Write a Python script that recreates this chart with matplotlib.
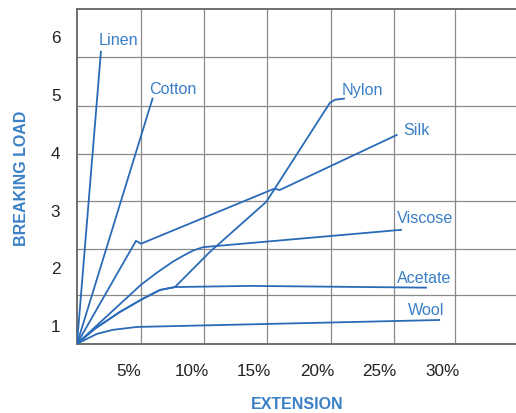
import numpy as np
import matplotlib
matplotlib.use('Agg')
import matplotlib.pyplot as plt

plt.rcParams['font.family'] = ['Liberation Sans', 'DejaVu Sans']

# extension (%) / breaking load
linen_x = [0.85, 2.76]
linen_y = [0.68, 5.73]
cotton_x = [0.85, 6.88]
cotton_y = [0.68, 4.92]
silk_x = [0.85, 5.56, 5.96, 16.58, 17.05, 26.37]
silk_y = [0.68, 2.46, 2.41, 3.36, 3.34, 4.29]
nylon_x = [0.85, 2.28, 4.28, 6.04, 7.48, 8.67, 11.47, 15.94, 16.10, 21.05, 21.45, 22.17]
nylon_y = [0.68, 0.94, 1.23, 1.45, 1.61, 1.66, 2.27, 3.13, 3.18, 4.85, 4.90, 4.92]
viscose_x = [0.85, 5.96, 7.3, 8.51, 9.4, 10.10, 10.91, 26.72]
viscose_y = [0.68, 1.70, 1.92, 2.10, 2.21, 2.29, 2.35, 2.65]
acetate_x = [0.85, 2.28, 4.28, 6.04, 7.48, 8.67, 14.66, 28.72]
acetate_y = [0.68, 0.94, 1.23, 1.45, 1.61, 1.66, 1.68, 1.65]
wool_x = [0.85, 2.44, 3.72, 5.64, 29.76]
wool_y = [0.68, 0.85, 0.92, 0.97, 1.09]

x_ticks = [5, 10, 15, 20, 25, 30]
x_labels = ['5%', '10%', '15%', '20%', '25%', '30%']
y_ticks = [1, 2, 3, 4, 5, 6]

line_col = '#2a6bb8'
text_col = '#3a7fc6'

fig = plt.figure(figsize=(5.16, 4.14), dpi=100)
ax = fig.add_axes([77 / 516, 69 / 414, 1 - 77 / 516, 335 / 414])

curves = [(linen_x, linen_y), (cotton_x, cotton_y), (silk_x, silk_y),
          (nylon_x, nylon_y), (viscose_x, viscose_y),
          (acetate_x, acetate_y), (wool_x, wool_y)]
for cx, cy in curves:
    ax.plot(cx, cy, color=line_col, lw=1.3, solid_joinstyle='round', zorder=3)

# series names next to the line ends
names = [('Linen', 2.6, 5.95), ('Cotton', 6.6, 5.10), ('Nylon', 22.0, 5.08),
         ('Silk', 26.9, 4.39), ('Viscose', 26.4, 2.87),
         ('Acetate', 26.4, 1.83), ('Wool', 27.3, 1.28)]
for name, tx, ty in names:
    ax.text(tx, ty, name, color=text_col, fontsize=11.6, ha='left', va='center')

ax.set_xlim(0.85, 35.9)
ax.set_ylim(0.675, 6.47)

ax.set_xticks(x_ticks)
ax.set_xticklabels(x_labels)
ax.set_yticks(y_ticks)
ax.tick_params(which='major', length=0, labelsize=12.3, labelcolor='#222222')
ax.tick_params(axis='x', pad=14)
ax.tick_params(axis='y', pad=12)

# grid is not aligned with the labels in the original
ax.set_xticks([5.96, 10.99, 16.02, 21.1, 26.13, 31.04], minor=True)
ax.set_yticks([1.524, 2.320, 3.156, 3.964, 4.798, 5.636], minor=True)
ax.tick_params(which='minor', length=0)
ax.grid(which='minor', color='#8a8a8a', lw=0.9)
ax.grid(which='major', visible=False)

for s in ['left', 'top', 'bottom']:
    ax.spines[s].set_color('#6e6e6e')
    ax.spines[s].set_linewidth(1.4)
ax.spines['right'].set_visible(False)

fig.text(297 / 516, 1 - 405 / 414, 'EXTENSION', color=text_col, fontsize=11.5,
         fontweight='bold', ha='center', va='center')
fig.text(22 / 516, 1 - 178 / 414, 'BREAKING LOAD', color=text_col, fontsize=11.5,
         fontweight='bold', ha='center', va='center', rotation=90)

plt.savefig('out.png', dpi=100)
